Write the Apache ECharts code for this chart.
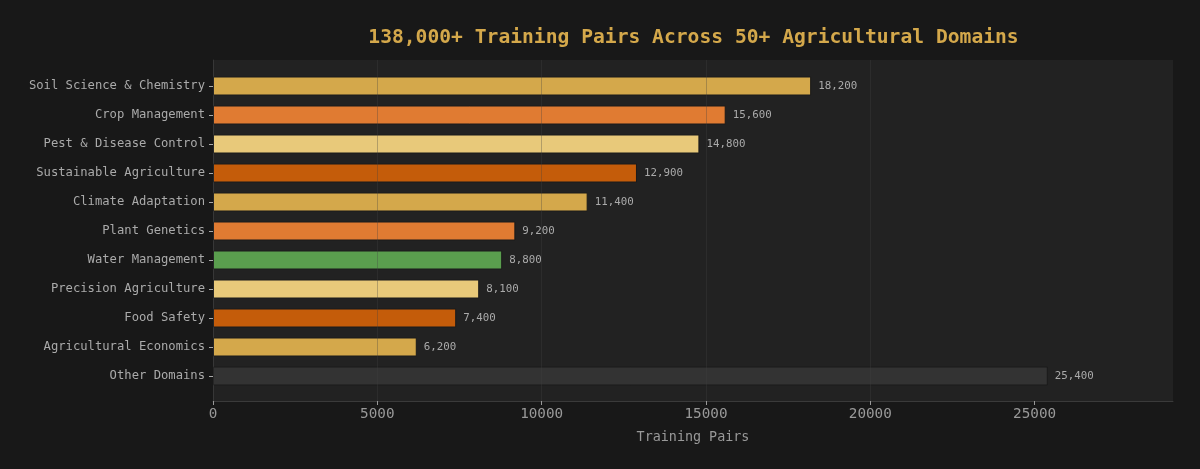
<!DOCTYPE html>
<html><head><meta charset="utf-8">
<script src="https://cdn.jsdelivr.net/npm/echarts@6/dist/echarts.min.js"></script>
<style>html,body{margin:0;padding:0;background:#181818;}#c{width:1200px;height:469px;}</style>
</head><body><div id="c"></div>
<script>
const categories = ["Soil Science & Chemistry","Crop Management","Pest & Disease Control","Sustainable Agriculture","Climate Adaptation","Plant Genetics","Water Management","Precision Agriculture","Food Safety","Agricultural Economics","Other Domains"];
const values = [18200,15600,14800,12900,11400,9200,8800,8100,7400,6200,25400];
const colors = ["#d4a84b","#e07b32","#e8c97a","#c45c0a","#d4a84b","#e07b32","#5a9e4e","#e8c97a","#c45c0a","#d4a84b","#333333"];
const xTicks = [0,5000,10000,15000,20000,25000];
const xMax = 29210;
const titleText = "138,000+ Training Pairs Across 50+ Agricultural Domains";
const xName = "Training Pairs";

const font = "DejaVu Sans Mono";
const chart = echarts.init(document.getElementById('c'));
chart.setOption({
  backgroundColor: '#181818',
  animation: false,
  title: {text: titleText, left: 688.5, top: 23, textAlign: 'center',
    textStyle: {fontFamily: font, fontWeight: 'bold', fontSize: 19.65, color: '#d4a84b'}},
  grid: [
    {left: 213, top: 60, width: 960, height: 341, show: true, backgroundColor: '#222222', borderWidth: 0, containLabel: false},
    {left: 213, top: 71.5, width: 960, height: 319, containLabel: false}
  ],
  xAxis: [
    {gridIndex: 0, type: 'value', min: 0, max: xMax, interval: 5000, z: 5,
      axisLine: {show: true, lineStyle: {color: '#3a3a3a', width: 1}},
      axisTick: {show: true, length: 4, customValues: xTicks, lineStyle: {color: '#999'}},
      axisLabel: {color: '#999', fontFamily: font, fontSize: 14.3, margin: 6, customValues: xTicks,
        formatter: v => String(v)},
      splitLine: {show: true, showMaxLine: false, lineStyle: {color: 'rgba(64,64,64,0.32)', width: 1}},
      name: xName, nameLocation: 'middle', nameGap: 30,
      nameTextStyle: {color: '#999', fontFamily: font, fontSize: 13.4}},
    {gridIndex: 1, type: 'value', min: 0, max: xMax, interval: 5000, show: false,
      splitLine: {show: false}}
  ],
  yAxis: [
    {gridIndex: 0, type: 'value', min: 0, max: 1,
      axisLine: {show: true, lineStyle: {color: '#333', width: 1}},
      axisTick: {show: false}, axisLabel: {show: false}, splitLine: {show: false}},
    {gridIndex: 1, type: 'category', data: categories, inverse: true,
      axisLine: {show: false},
      axisTick: {show: true, alignWithLabel: true, length: 4, lineStyle: {color: '#aaa'}},
      axisLabel: {color: '#aaa', fontFamily: font, fontSize: 12.2, margin: 8}}
  ],
  series: [{
    type: 'bar', xAxisIndex: 1, yAxisIndex: 1, barWidth: 19,
    data: values.map((v, i) => ({value: v, itemStyle: {color: colors[i]}})),
    itemStyle: {borderColor: '#1a1a1a', borderWidth: 1},
    label: {show: true, position: 'right', distance: 7, color: '#aaa', fontFamily: font, fontSize: 10.8,
      formatter: p => p.value.toLocaleString('en-US')}
  }]
});
</script></body></html>
